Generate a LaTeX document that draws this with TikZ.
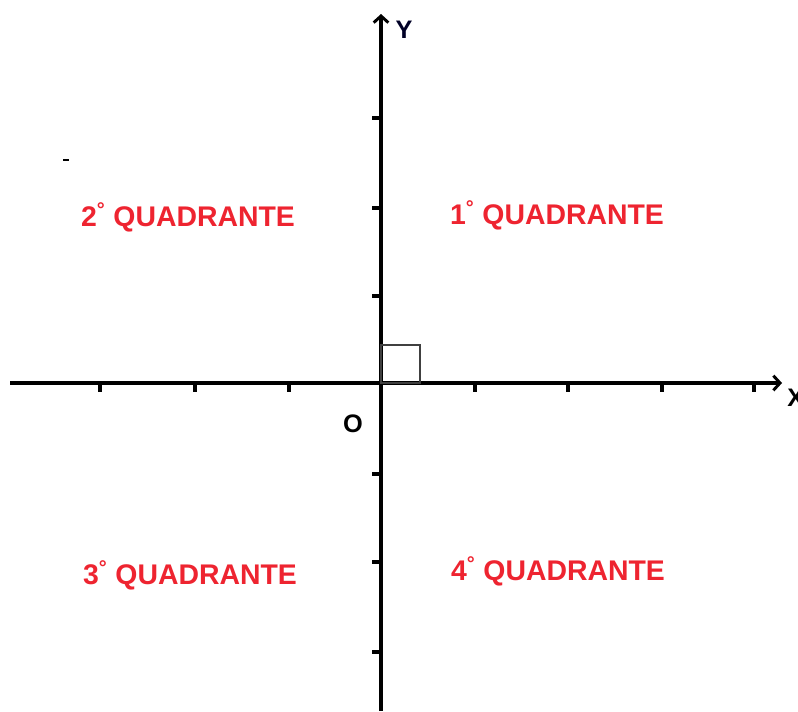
\documentclass[tikz,border=0pt]{standalone}
\usepackage{fontspec}
\setmainfont{Liberation Sans}
\usetikzlibrary{arrows.meta,positioning}
\definecolor{rosso}{RGB}{238,36,48}
\tikzset{
  asse/.style={line width=2.6pt, -{Straight Barb[length=5pt,width=11pt,line width=2.2pt]}},
  tacca/.style={line width=2.6pt},
  quad/.style={text=rosso, inner sep=0pt, font=\fontsize{21.3}{23}\selectfont\bfseries},
  lett/.style={inner sep=0pt, font=\fontsize{19}{21}\selectfont\bfseries},
}

\begin{document}
\begin{tikzpicture}[x=0.75pt,y=-0.75pt]
  \useasboundingbox (0,0) rectangle (798,711);
  % assi
  \coordinate (xs) at (10,383);
  \coordinate (xe) at (782,383);
  \coordinate (ys) at (381,711);
  \coordinate (ye) at (381,14);
  \draw[asse] (xs) -- (xe);
  \draw[asse] (ys) -- (ye);
  \foreach \t in {100,195,289,475,568,662,754} \draw[tacca] (\t,383) -- ++(0,9);
  \foreach \t in {118,208,296,474,562,652} \draw[tacca] (381,\t) -- ++(-9,0);
  % angolo retto
  \draw[black!75, line width=0.9pt] (381,345) rectangle (420,383);
  \fill (63,159) rectangle (69,161);
  % etichette
  \node[lett, text=black!85!blue] (ylab) at (404,30) {Y};
  \node[lett, anchor=west] (xlab) at (787,398) {X};
  \node[lett] (orig) at (353,424) {O};
  \node[quad] (q1) at (557,215) {1\textsuperscript{°} QUADRANTE};
  \node[quad] (q2) at (188,217) {2\textsuperscript{°} QUADRANTE};
  \node[quad] (q3) at (190,575) {3\textsuperscript{°} QUADRANTE};
  \node[quad] (q4) at (558,571) {4\textsuperscript{°} QUADRANTE};
\end{tikzpicture}
\end{document}
